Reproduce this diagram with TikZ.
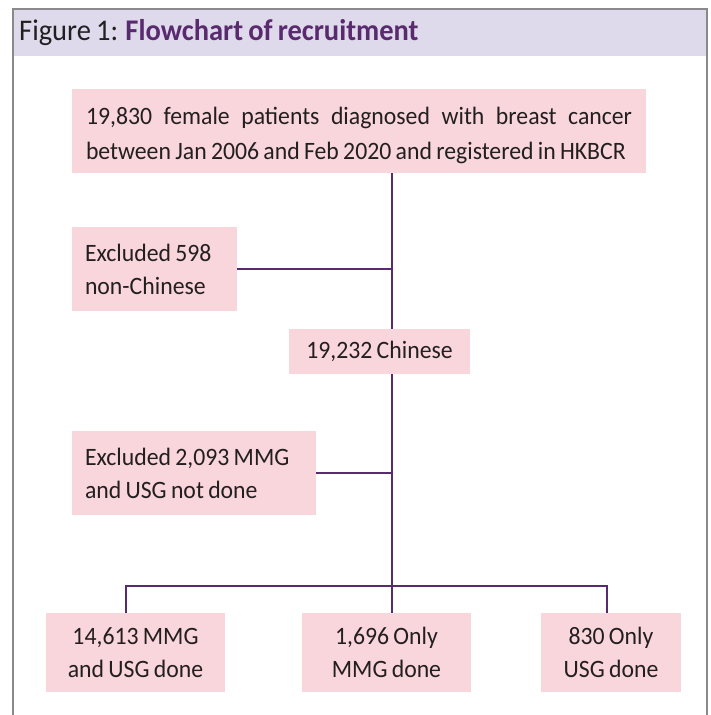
\documentclass[tikz,border=0pt]{standalone}
\usepackage{fontspec}
\setmainfont{Carlito}[FakeStretch=0.95, WordSpace=0.8]
\definecolor{purp}{HTML}{5A2A6E}
\definecolor{pinkbox}{HTML}{F9D6DC}
\definecolor{band}{HTML}{DEDAEC}
\definecolor{frame}{HTML}{8A8A8A}
\definecolor{ink}{HTML}{231F20}
\tikzset{
  box/.style={fill=pinkbox, draw=none, inner sep=0pt, text=ink, font=\fontsize{25}{33}\selectfont},
  conn/.style={draw=purp, line width=2.4pt}
}
\begin{document}
\begin{tikzpicture}[x=1pt,y=-1pt]
\useasboundingbox (0,0) rectangle (710,715);
% frame
\fill[band] (13,9) rectangle (707,56);
\draw[frame, line width=1.8pt] (13,720) -- (13,9) -- (707,9) -- (707,720);
\node[anchor=base west, inner sep=0pt, text=ink, font=\fontsize{30}{32}\selectfont] (title) at (19,40)
  {Figure 1: \textcolor{purp}{\bfseries Flowchart of recruitment}};
% boxes
\node[box, font=\fontsize{25}{35}\selectfont, minimum width=574pt, minimum height=84pt] (top) at (359,131)
  {\parbox{546pt}{\vspace*{9pt}\makebox[546pt][s]{19,830 female patients diagnosed with breast cancer}\\
   between Jan 2006 and Feb 2020 and registered in HKBCR}};
\node[box, minimum width=165pt, minimum height=84pt, text width=139pt, align=flush left] (ex1) at (154.5,269)
  {Excluded 598\\non-Chinese};
\node[box, minimum width=181pt, minimum height=45pt] (chn) at (379.5,351.5) {19,232 Chinese};
\node[box, minimum width=244pt, minimum height=84pt, text width=218pt, align=flush left] (ex2) at (194,473)
  {Excluded 2,093 MMG\\and USG not done};
\node[box, minimum width=179pt, minimum height=79pt, align=center] (b1) at (135.5,652.5)
  {14,613 MMG\\and USG done};
\node[box, minimum width=169pt, minimum height=79pt, align=center] (b2) at (386.5,652.5)
  {1,696 Only\\MMG done};
\node[box, minimum width=140pt, minimum height=79pt, align=center] (b3) at (611,652.5)
  {830 Only\\USG done};
% connectors
\coordinate (tx) at (392,0);
\coordinate (split) at (392,586);
\coordinate (lx) at (126,0);
\coordinate (rx) at (607,0);
\draw[conn] (tx |- top.south) -- (tx |- chn.north);
\draw[conn] (tx |- chn.south) -- (split);
\draw[conn] (ex1.east) -- (ex1.east -| tx);
\draw[conn] (ex2.east) -- (ex2.east -| tx);
\draw[conn] (lx |- b1.north) -- (lx |- split) -- (rx |- split) -- (rx |- b3.north);
\draw[conn] (split) -- (tx |- b2.north);
\end{tikzpicture}
\end{document}
